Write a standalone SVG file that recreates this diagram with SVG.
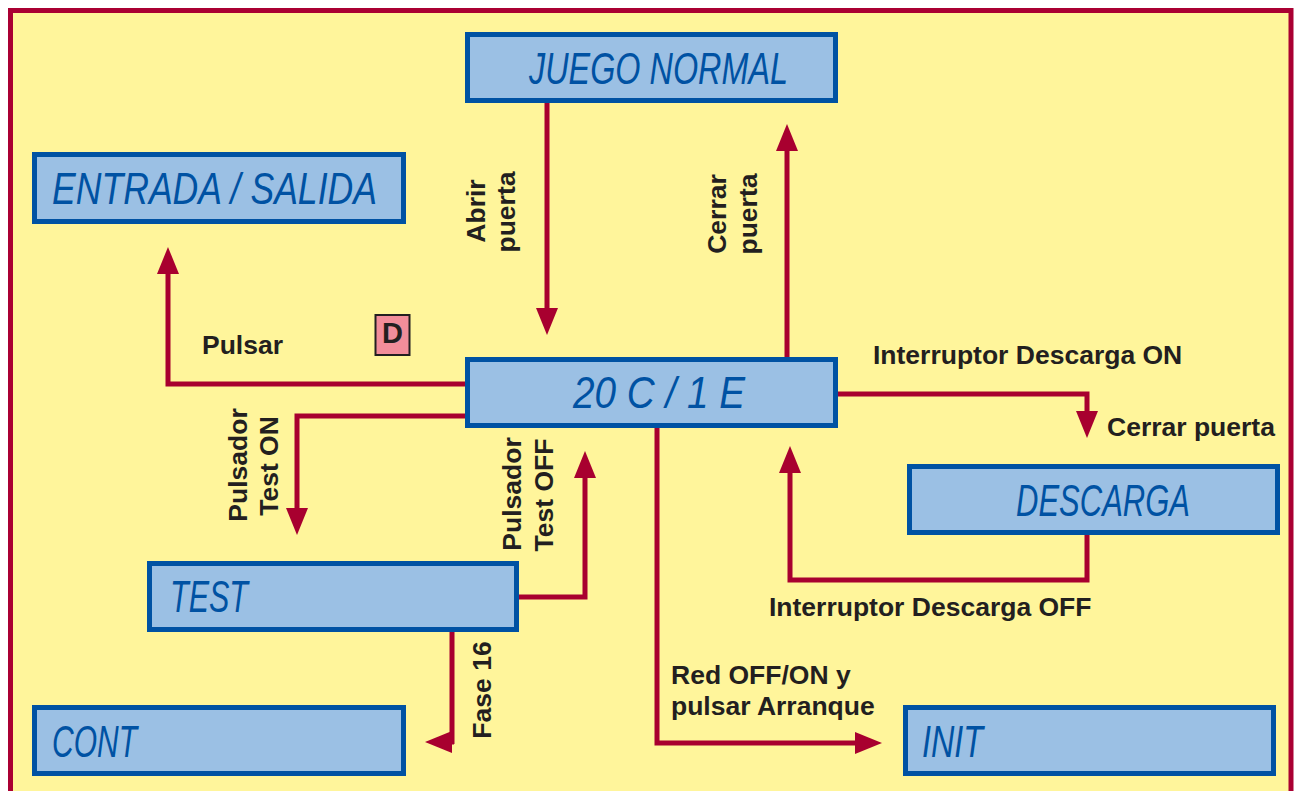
<svg xmlns="http://www.w3.org/2000/svg" width="1297" height="791" viewBox="0 0 1297 791">
  <defs>
    <style>
      .frame { fill: #FFF59B; stroke: #AA0033; stroke-width: 5; }
      .box { fill: #9BC0E4; stroke: #0052A3; stroke-width: 5; }
      .lcd { font-family: "Liberation Sans", Arial, sans-serif; font-style: italic; font-weight: normal; font-size: 44px; fill: #0052A3; }
      .lbl { font-family: "Liberation Sans", Arial, sans-serif; font-weight: bold; font-size: 26.5px; fill: #231F20; }
      .conn { fill: none; stroke: #A8002F; stroke-width: 5; stroke-linejoin: miter; }
      .badge { fill: #F28D9A; stroke: #231F20; stroke-width: 2; }
    </style>
    <marker id="arrow" markerUnits="userSpaceOnUse" markerWidth="28" markerHeight="23" refX="0" refY="11" orient="auto" viewBox="0 0 28 22">
      <path d="M0,0 L27,11 L0,22 Z" fill="#A8002F"/>
    </marker>
  </defs>

  <rect x="0" y="0" width="1297" height="791" fill="#FFFFFF"/>
  <rect class="frame" x="10.5" y="10.5" width="1280.5" height="800"/>

  <g id="connectors">
    <path class="conn" d="M547,103 V308" marker-end="url(#arrow)"/>
    <path class="conn" d="M787,357 V151" marker-end="url(#arrow)"/>
    <path class="conn" d="M465,384 H168 V274" marker-end="url(#arrow)"/>
    <path class="conn" d="M465,416 H297 V508" marker-end="url(#arrow)"/>
    <path class="conn" d="M519,597 H585 V478" marker-end="url(#arrow)"/>
    <path class="conn" d="M452,632 V744 M454,742 H452" marker-end="url(#arrow)"/>
    <path class="conn" d="M838,394 H1087 V411" marker-end="url(#arrow)"/>
    <path class="conn" d="M1087,535 V580 H790 V473" marker-end="url(#arrow)"/>
    <path class="conn" d="M657,428 V743 H855" marker-end="url(#arrow)"/>
  </g>

  <g id="labels">
    <text class="lbl" x="202" y="354">Pulsar</text>
    <text class="lbl" x="873" y="364">Interruptor Descarga ON</text>
    <text class="lbl" x="1107" y="436">Cerrar puerta</text>
    <text class="lbl" x="769" y="616">Interruptor Descarga OFF</text>
    <text class="lbl" x="671" y="684">Red OFF/ON y</text>
    <text class="lbl" x="671" y="715">pulsar Arranque</text>
    <g text-anchor="middle">
      <text class="lbl" transform="translate(485,211) rotate(-90)">Abrir</text>
      <text class="lbl" transform="translate(515,212) rotate(-90)">puerta</text>
      <text class="lbl" transform="translate(726,214) rotate(-90)">Cerrar</text>
      <text class="lbl" transform="translate(757,214) rotate(-90)">puerta</text>
      <text class="lbl" transform="translate(247,465) rotate(-90)">Pulsador</text>
      <text class="lbl" transform="translate(278,466) rotate(-90)">Test ON</text>
      <text class="lbl" transform="translate(521,494) rotate(-90)">Pulsador</text>
      <text class="lbl" transform="translate(553,495) rotate(-90)">Test OFF</text>
      <text class="lbl" transform="translate(491,690) rotate(-90)">Fase 16</text>
    </g>
  </g>

  <g id="badge-d">
    <rect class="badge" x="375.5" y="315" width="34" height="40"/>
    <text class="lbl" x="392.5" y="343" text-anchor="middle" style="font-size:29px">D</text>
  </g>

  <g id="node-entrada">
    <rect class="box" x="34.5" y="154.5" width="369" height="67"/>
    <text class="lcd" x="52" y="204" textLength="325" lengthAdjust="spacingAndGlyphs">ENTRADA / SALIDA</text>
  </g>
  <g id="node-juego">
    <rect class="box" x="467.5" y="34.5" width="368" height="66"/>
    <text class="lcd" x="529" y="84" textLength="259" lengthAdjust="spacingAndGlyphs">JUEGO NORMAL</text>
  </g>
  <g id="node-20c">
    <rect class="box" x="467.5" y="359.5" width="368" height="66"/>
    <text class="lcd" x="573" y="408" textLength="172" lengthAdjust="spacingAndGlyphs">20 C / 1 E</text>
  </g>
  <g id="node-test">
    <rect class="box" x="149.5" y="563.5" width="367" height="66"/>
    <text class="lcd" x="170" y="612" textLength="78" lengthAdjust="spacingAndGlyphs">TEST</text>
  </g>
  <g id="node-cont">
    <rect class="box" x="34.5" y="707.5" width="369" height="66"/>
    <text class="lcd" x="52" y="757" textLength="85" lengthAdjust="spacingAndGlyphs">CONT</text>
  </g>
  <g id="node-descarga">
    <rect class="box" x="909.5" y="466.5" width="368" height="66"/>
    <text class="lcd" x="1016" y="516" textLength="174" lengthAdjust="spacingAndGlyphs">DESCARGA</text>
  </g>
  <g id="node-init">
    <rect class="box" x="905.5" y="707.5" width="368" height="66"/>
    <text class="lcd" x="922" y="757" textLength="61" lengthAdjust="spacingAndGlyphs">INIT</text>
  </g>
</svg>
